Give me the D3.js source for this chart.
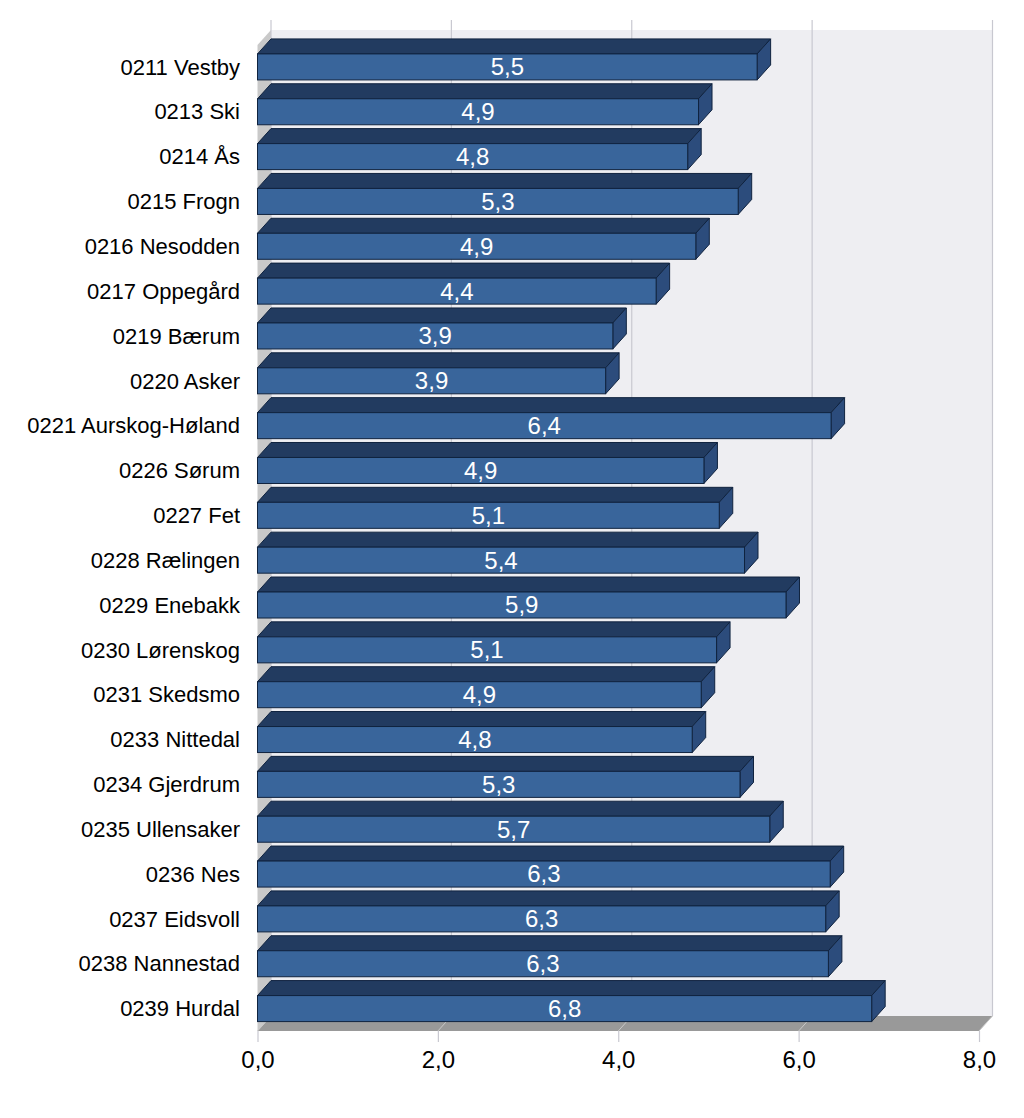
<!DOCTYPE html>
<html><head><meta charset="utf-8">
<script src="https://cdn.jsdelivr.net/npm/d3@7/dist/d3.min.js"></script>
<style>html,body{margin:0;padding:0;background:#fff}svg{display:block}text{font-family:"Liberation Sans",Arial,sans-serif}</style>
</head><body><div id="c"></div>
<script>
const categories = ["0211 Vestby","0213 Ski","0214 Ås","0215 Frogn","0216 Nesodden","0217 Oppegård","0219 Bærum","0220 Asker","0221 Aurskog-Høland","0226 Sørum","0227 Fet","0228 Rælingen","0229 Enebakk","0230 Lørenskog","0231 Skedsmo","0233 Nittedal","0234 Gjerdrum","0235 Ullensaker","0236 Nes","0237 Eidsvoll","0238 Nannestad","0239 Hurdal"];
const values = [5.54,4.89,4.77,5.33,4.86,4.42,3.94,3.86,6.36,4.95,5.12,5.40,5.86,5.09,4.92,4.82,5.35,5.68,6.35,6.30,6.33,6.81];
const valueLabels = ["5,5","4,9","4,8","5,3","4,9","4,4","3,9","3,9","6,4","4,9","5,1","5,4","5,9","5,1","4,9","4,8","5,3","5,7","6,3","6,3","6,3","6,8"];
const tickValues = [0,2,4,6,8];
const tickLabels = ["0,0","2,0","4,0","6,0","8,0"];

const W=1024,H=1118, dx=13.5, dy=15;
const svg=d3.select("#c").append("svg").attr("width",W).attr("height",H);
const x=d3.scaleLinear().domain([0,8]).range([257.5,979]);
const y=d3.scaleBand().domain(categories).range([44.5,1031]).paddingInner(0.42).paddingOuter(0.21).align(0.5);
const top0=30, base=1031;
const poly=(pts,fill,stroke)=>svg.append("polygon").attr("points",pts.map(p=>p.join(",")).join(" ")).attr("fill",fill).attr("stroke",stroke||"none");

// back wall
svg.append("rect").attr("x",x(0)+dx).attr("y",top0).attr("width",x(8)-x(0)).attr("height",base-dy-top0).attr("fill","#eeeef2");
// left wall & floor
poly([[x(0)+dx,top0],[x(0)+dx,base-dy],[x(0),base],[x(0),top0+dy]],"#c9c9c9");
poly([[x(0),base],[x(8),base],[x(8)+dx,base-dy],[x(0)+dx,base-dy]],"#999999");
// grid
tickValues.forEach(t=>{
  svg.append("line").attr("x1",x(t)+dx).attr("x2",x(t)+dx).attr("y1",20).attr("y2",base-dy).attr("stroke","#c8c8d0").attr("stroke-width",1.2);
  svg.append("line").attr("x1",x(t)).attr("y1",base).attr("x2",x(t)+dx).attr("y2",base-dy).attr("stroke","#c8c8c8").attr("stroke-width",1);
});
// axis
const axis=d3.axisBottom(x).tickValues(tickValues).tickFormat((d,i)=>tickLabels[i]).tickSize(11).tickPadding(9);
const ag=svg.append("g").attr("transform",`translate(0,${base})`).call(axis);
ag.select(".domain").remove();
ag.selectAll(".tick line").attr("stroke","#c8c8d0").attr("stroke-width",1.2);
ag.selectAll(".tick text").attr("font-size",24).attr("fill","#000").style("font-family",'"Liberation Sans",Arial,sans-serif');

// category labels
svg.selectAll("text.cat").data(categories).join("text").attr("class","cat")
  .attr("x",240).attr("y",d=>y(d)+y.bandwidth()/2).attr("dy","0.35em").attr("text-anchor","end").attr("font-size",22).attr("fill","#000").text(d=>d);

// bars
const g=svg.selectAll("g.bar").data(categories).join("g").attr("class","bar");
const stroke="#10233f";
g.each(function(c,i){
  const s=d3.select(this), X0=x(0), X1=x(values[i]), T=y(c), B=T+y.bandwidth();
  s.append("polygon").attr("points",[[X0,T],[X0+dx,T-dy],[X1+dx,T-dy],[X1,T]].join(" ")).attr("fill","#223b60").attr("stroke",stroke);
  s.append("polygon").attr("points",[[X1,T],[X1+dx,T-dy],[X1+dx,B-dy],[X1,B]].join(" ")).attr("fill","#2c4c7c").attr("stroke",stroke);
  s.append("rect").attr("x",X0).attr("y",T).attr("width",X1-X0).attr("height",B-T).attr("fill","#39659b").attr("stroke",stroke);
  s.append("text").attr("x",(X0+X1)/2).attr("y",(T+B)/2).attr("dy","0.35em").attr("text-anchor","middle").attr("font-size",24).attr("fill","#fff").text(valueLabels[i]);
});
</script></body></html>
